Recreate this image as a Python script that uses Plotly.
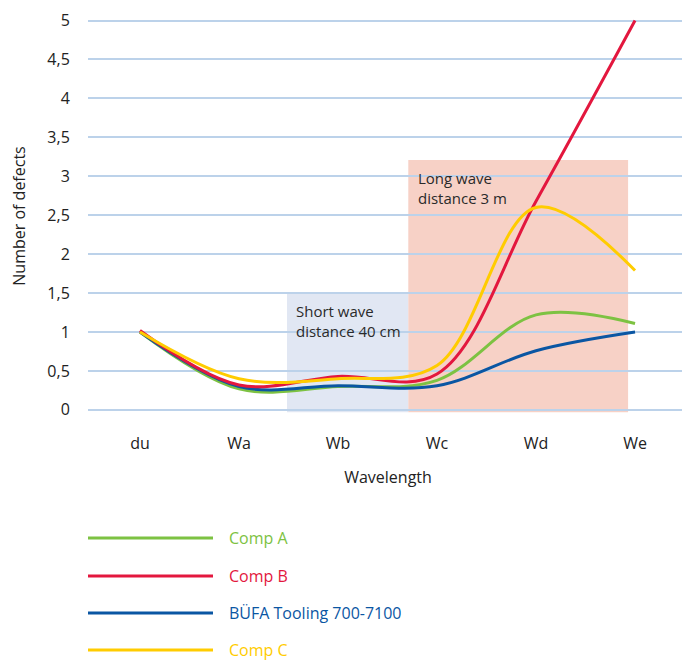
import plotly.graph_objects as go

categories = ["du", "Wa", "Wb", "Wc", "Wd", "We"]
comp_a = [1.0, 0.27, 0.30, 0.38, 1.22, 1.11]
comp_b = [1.02, 0.32, 0.43, 0.46, 2.68, 5.0]
bufa = [1.0, 0.30, 0.31, 0.31, 0.76, 1.0]
comp_c = [1.0, 0.40, 0.40, 0.57, 2.60, 1.79]

series_names = ["Comp A", "Comp B", "BÜFA Tooling 700-7100", "Comp C"]
series_values = [comp_a, comp_b, bufa, comp_c]
series_colors = ["#7DC242", "#E3173E", "#0A56A3", "#FFCC00"]

FONT = "Open Sans"
xs = list(range(len(categories)))

# page has an 8px body margin; design in reference pixels then shift
OFF = 8
W, H = 690 - OFF, 660 - OFF
ml, mr, mt, mb = 88 - OFF, 2, 19 - OFF, 247
pw = W - ml - mr
ph = H - mt - mb

def px_to_paper_x(px):
    return (px - OFF - ml) / pw

def px_to_paper_y(py):
    return (H - mb - (py - OFF)) / ph

fig = go.Figure()
order = [0, 2, 1, 3]
for i in order:
    fig.add_trace(go.Scatter(
        x=xs, y=series_values[i], mode="lines", name=series_names[i],
        line=dict(color=series_colors[i], width=3, shape="spline", smoothing=1.0),
        showlegend=False,
    ))

fig.add_shape(type="rect", xref="x", yref="y", x0=1.485, x1=2.71, y0=-0.03, y1=1.5,
              fillcolor="#E1E7F3", line_width=0, layer="below")
fig.add_shape(type="rect", xref="x", yref="y", x0=2.71, x1=4.93, y0=-0.03, y1=3.21,
              fillcolor="#F7D1C6", line_width=0, layer="below")

fig.add_annotation(x=1.56, y=1.43, xref="x", yref="y", text="Short wave<br>distance 40 cm",
                   showarrow=False, xanchor="left", yanchor="top", align="left",
                   font=dict(family=FONT, size=15, color="#2a2a2a"))
fig.add_annotation(x=2.79, y=3.13, xref="x", yref="y", text="Long wave<br>distance 3 m",
                   showarrow=False, xanchor="left", yanchor="top", align="left",
                   font=dict(family=FONT, size=15, color="#2a2a2a"))

leg_y = [538, 576, 613, 650]
for name, color, ypix in zip(series_names, series_colors, leg_y):
    yp = px_to_paper_y(ypix)
    fig.add_shape(type="line", xref="paper", yref="paper",
                  x0=px_to_paper_x(88), x1=px_to_paper_x(213), y0=yp, y1=yp,
                  line=dict(color=color, width=3))
    fig.add_annotation(xref="paper", yref="paper", x=px_to_paper_x(228), y=yp, text=name,
                       showarrow=False, xanchor="left", yanchor="middle",
                       height=20, borderpad=0, valign="middle",
                       font=dict(family=FONT, size=16, color=color))

fig.update_layout(
    width=W, height=H,
    margin=dict(l=ml, r=mr, t=mt, b=mb, pad=0),
    paper_bgcolor="white", plot_bgcolor="white",
    separators=", ",
    font=dict(family=FONT, size=16, color="#222"),
    xaxis=dict(
        tickmode="array", tickvals=xs, ticktext=categories,
        range=[-0.525, 5.535], showgrid=False, zeroline=False, showline=False,
        ticks="outside", ticklen=16, tickcolor="rgba(0,0,0,0)",
        tickfont=dict(size=16, color="#222"),
        title=dict(text="Wavelength", font=dict(size=16, color="#222"), standoff=18),
    ),
    yaxis=dict(
        range=[-0.04, 5.02], dtick=0.5, tick0=0,
        showgrid=True, gridcolor="#BCD2EA", gridwidth=1.5,
        zeroline=False, showline=False, ticks="outside", ticklen=14, tickcolor="rgba(0,0,0,0)",
        tickfont=dict(size=16, color="#222"),
        title=dict(text="Number of defects", font=dict(size=16, color="#222"), standoff=19),
    ),
)

fig.write_html("out.html")
